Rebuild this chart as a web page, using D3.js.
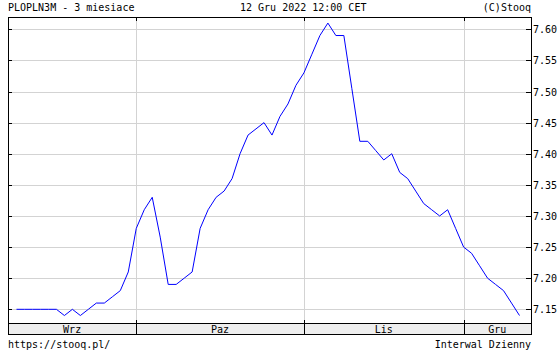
<!DOCTYPE html>
<html>
<head>
<meta charset="utf-8">
<script src="https://cdn.jsdelivr.net/npm/d3@7"></script>
<style>
  body { margin: 0; background: #fff; }
  text { font-family: "DejaVu Sans Mono", monospace; font-size: 10px; fill: #000; }
</style>
</head>
<body>
<div id="chart"></div>
<script>
// Kurs zamkniecia PLOPLN3M, sesje od 12 Wrz do 12 Gru 2022
const values = [
    7.15, 7.15, 7.15, 7.15, 7.15, 7.15, 7.14, 7.15, 7.14, 7.15,
    7.16, 7.16, 7.17, 7.18, 7.21, 7.28, 7.31, 7.33, 7.266, 7.19,
    7.19, 7.20, 7.21, 7.28, 7.31, 7.33, 7.34, 7.36, 7.40, 7.43,
    7.44, 7.45, 7.43, 7.46, 7.48, 7.51, 7.53, 7.56, 7.59, 7.61,
    7.59, 7.59, 7.505, 7.42, 7.42, 7.405, 7.39, 7.40, 7.37, 7.36,
    7.34, 7.32, 7.31, 7.30, 7.31, 7.28, 7.25, 7.24, 7.22, 7.20,
    7.19, 7.18, 7.16, 7.14
];
const months = ["Wrz", "Paz", "Lis", "Gru"];
const monthStarts = [15, 36, 56];   // indeks pierwszej sesji miesiaca
const yTicks = [7.15, 7.20, 7.25, 7.30, 7.35, 7.40, 7.45, 7.50, 7.55, 7.60];

const W = 560, H = 350;
const frame = { left: 8, right: 531, top: 17, plotBottom: 323, bottom: 334 };

const svg = d3.select("#chart")
    .append("svg")
    .attr("width", W)
    .attr("height", H);

const x = d3.scaleLinear()
    .domain([0, values.length - 1])
    .range([16.5, 519.5]);

const y = d3.scaleLinear()
    .domain([7.15, 7.60])
    .range([309.3, 29.3]);

const px = v => Math.round(v) + 0.5;

// Siatka pozioma
svg.append("g")
    .selectAll("line")
    .data(yTicks)
    .join("line")
    .attr("x1", frame.left)
    .attr("x2", frame.right)
    .attr("y1", d => px(y(d)))
    .attr("y2", d => px(y(d)))
    .attr("stroke", "#d3d3d3")
    .attr("shape-rendering", "crispEdges");

// Siatka pionowa (granice miesiecy)
svg.append("g")
    .selectAll("line")
    .data(monthStarts)
    .join("line")
    .attr("x1", d => px(x(d)))
    .attr("x2", d => px(x(d)))
    .attr("y1", frame.top)
    .attr("y2", frame.plotBottom)
    .attr("stroke", "#d3d3d3")
    .attr("shape-rendering", "crispEdges");

// Pasek miesiecy
svg.append("rect")
    .attr("x", frame.left + 0.5)
    .attr("y", frame.plotBottom + 0.5)
    .attr("width", frame.right - frame.left)
    .attr("height", frame.bottom - frame.plotBottom)
    .attr("fill", "#eeeeee")
    .attr("stroke", "#000")
    .attr("shape-rendering", "crispEdges");

const bounds = [frame.left].concat(monthStarts.map(d => x(d)), [frame.right]);
svg.append("g")
    .selectAll("text")
    .data(months)
    .join("text")
    .attr("x", (d, i) => (bounds[i] + bounds[i + 1]) / 2)
    .attr("y", 332.5)
    .attr("text-anchor", "middle")
    .text(d => d);

// Kreski miesiecy (gora, dol, pasek)
const ticksG = svg.append("g")
    .attr("stroke", "#000")
    .attr("shape-rendering", "crispEdges");
monthStarts.forEach(d => {
    const xx = px(x(d));
    ticksG.append("line").attr("x1", xx).attr("x2", xx).attr("y1", frame.top).attr("y2", frame.top + 4);
    ticksG.append("line").attr("x1", xx).attr("x2", xx).attr("y1", frame.plotBottom - 3).attr("y2", frame.bottom);
});

// Kreski osi Y
yTicks.forEach(d => {
    const yy = px(y(d));
    ticksG.append("line").attr("x1", frame.left).attr("x2", frame.left + 4).attr("y1", yy).attr("y2", yy);
    ticksG.append("line").attr("x1", frame.right - 5).attr("x2", frame.right).attr("y1", yy).attr("y2", yy);
});

// Ramka
svg.append("path")
    .attr("d", `M${frame.left + 0.5},${frame.bottom + 0.5}V${frame.top + 0.5}H${frame.right + 0.5}V${frame.bottom + 0.5}`)
    .attr("fill", "none")
    .attr("stroke", "#000")
    .attr("shape-rendering", "crispEdges");

// Etykiety osi Y
svg.append("g")
    .selectAll("text")
    .data(yTicks)
    .join("text")
    .attr("x", 533)
    .attr("y", d => y(d) + 4)
    .text(d => d3.format(".2f")(d));

// Linia kursu
const line = d3.line()
    .x((d, i) => x(i))
    .y(d => y(d));

svg.append("path")
    .datum(values)
    .attr("fill", "none")
    .attr("stroke", "#0000ff")
    .attr("stroke-width", 1)
    .attr("d", line);

// Naglowek i stopka
svg.append("text").attr("x", 8).attr("y", 11).text("PLOPLN3M - 3 miesiace");
svg.append("text").attr("x", 240).attr("y", 11).text("12 Gru 2022 12:00 CET");
svg.append("text").attr("x", 531).attr("y", 11).attr("text-anchor", "end").text("(C)Stooq");
svg.append("text").attr("x", 8).attr("y", 348).text("https://stooq.pl/");
svg.append("text").attr("x", 531).attr("y", 348).attr("text-anchor", "end").text("Interwal Dzienny");
</script>
</body>
</html>
